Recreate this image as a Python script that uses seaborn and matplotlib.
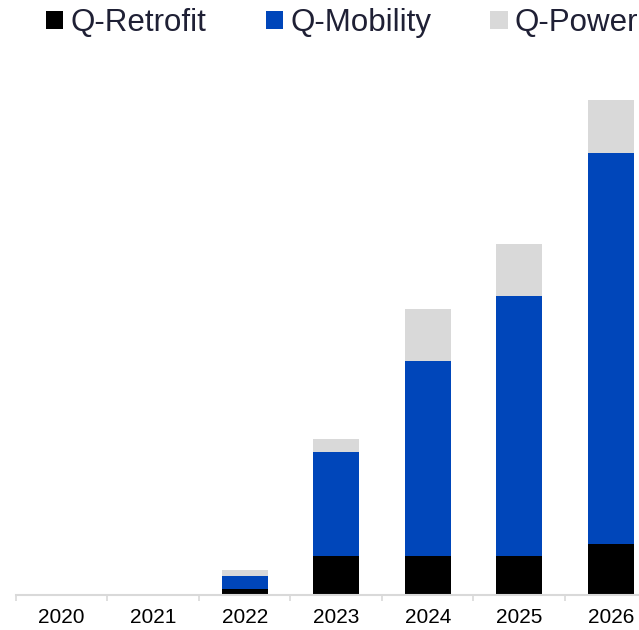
import numpy as np
import pandas as pd
import seaborn as sns
import matplotlib.pyplot as plt
from matplotlib.patches import Patch

years = ['2020', '2021', '2022', '2023', '2024', '2025', '2026']
retrofit = [0, 0, 1.0, 7.4, 7.5, 7.5, 9.8]
mobility = [0, 0, 2.6, 20.1, 37.5, 50.0, 75.2]
power = [0, 0, 1.2, 2.5, 10.0, 10.0, 10.1]

series_names = ['Q-Retrofit', 'Q-Mobility', 'Q-Power']
series_colors = ['#000000', '#0046BA', '#D9D9D9']


def plot_stacked(df: pd.DataFrame, output_file: str = 'out.png') -> None:
    sns.set_style('white')
    plt.rcParams['font.family'] = ['Liberation Sans', 'DejaVu Sans']

    fig = plt.figure(figsize=(6.39, 6.3), dpi=100)
    ax = fig.add_axes([16 / 639, 1 - 594.5 / 630, 640.5 / 639, 520 / 630])

    # draw from the top of the stack down so each layer covers the last
    df['top_power'] = df['retrofit'] + df['mobility'] + df['power']
    df['top_mobility'] = df['retrofit'] + df['mobility']
    layers = ['top_power', 'top_mobility', 'retrofit']
    for col, color in zip(layers, series_colors[::-1]):
        sns.barplot(data=df, x='year', y=col, color=color, width=0.5,
                    saturation=1, edgecolor='none', linewidth=0, ax=ax)

    ax.set_ylim(0, 100)
    ax.set_xlim(-0.5, len(years) - 0.5)
    ax.set_xlabel('')
    ax.set_ylabel('')
    ax.set_yticks([])
    for side in ['left', 'right', 'top']:
        ax.spines[side].set_visible(False)
    ax.spines['bottom'].set_color('#D9D9D9')
    ax.spines['bottom'].set_linewidth(1.5)

    ax.set_xticks(np.arange(len(years)))
    ax.set_xticklabels(years)
    ax.set_xticks(np.arange(len(years)) - 0.5, minor=True)
    ax.tick_params(axis='x', which='major', length=0, pad=9.5,
                   labelsize=15, labelcolor='black')
    ax.tick_params(axis='x', which='minor', length=4.5, width=1.2,
                   color='#D9D9D9', direction='out', bottom=True)

    handles = [Patch(facecolor=c, edgecolor='none') for c in series_colors]
    fig.legend(handles, series_names, loc='center left',
               bbox_to_anchor=(46 / 639, 1 - 23 / 630), ncol=3,
               frameon=False, fontsize=22.5, handlelength=0.55,
               handleheight=0.55, handletextpad=0.23, columnspacing=1.9,
               borderpad=0, borderaxespad=0, labelcolor='#1F2035')

    fig.savefig(output_file, dpi=100)
    plt.close(fig)


if __name__ == '__main__':
    data = pd.DataFrame({
        'year': years,
        'retrofit': retrofit,
        'mobility': mobility,
        'power': power,
    })
    plot_stacked(data)
